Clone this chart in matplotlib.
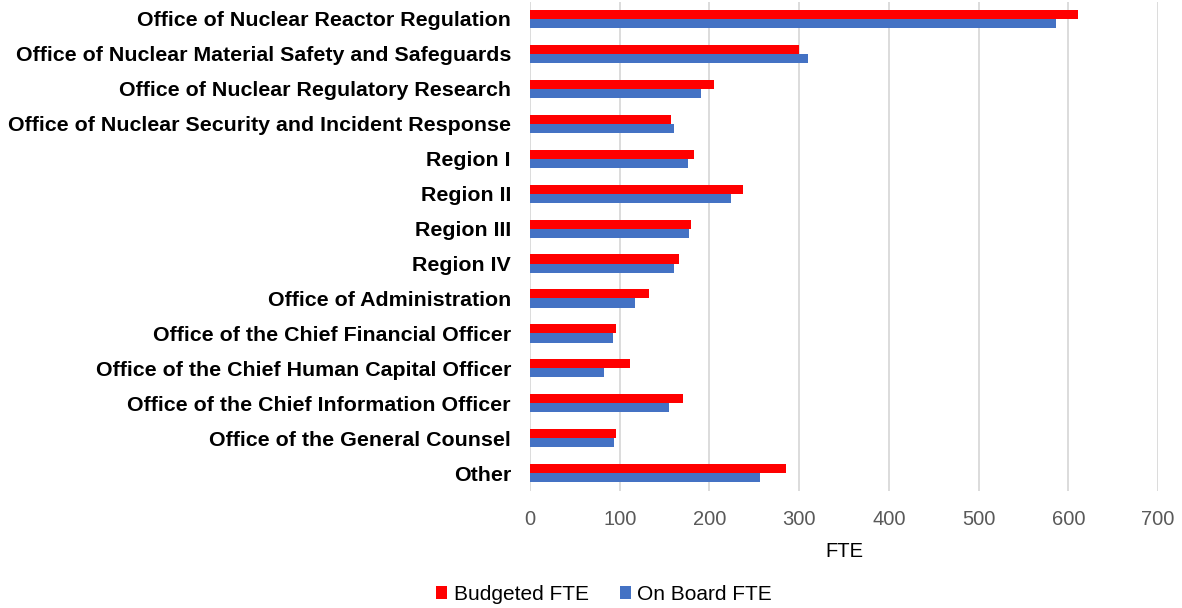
import matplotlib
matplotlib.use("Agg")
import matplotlib.pyplot as plt
import numpy as np

categories = [
    "Office of Nuclear Reactor Regulation",
    "Office of Nuclear Material Safety and Safeguards",
    "Office of Nuclear Regulatory Research",
    "Office of Nuclear Security and Incident Response",
    "Region I",
    "Region II",
    "Region III",
    "Region IV",
    "Office of Administration",
    "Office of the Chief Financial Officer",
    "Office of the Chief Human Capital Officer",
    "Office of the Chief Information Officer",
    "Office of the General Counsel",
    "Other",
]
budgeted = [611, 300, 205, 157, 183, 237, 179, 166, 133, 96, 112, 171, 96, 285]
onboard = [586, 310, 191, 161, 176, 224, 177, 160, 117, 92, 83, 155, 94, 256]
xticks = [0, 100, 200, 300, 400, 500, 600, 700]

plt.rcParams['font.family'] = ['Liberation Sans', 'DejaVu Sans']

fig = plt.figure(figsize=(11.82, 6.08), dpi=100)
ax = fig.add_axes([0.4484, 0.193, 0.5313, 0.8045])

y = np.arange(len(categories))
h = 0.26
ax.barh(y - h/2, budgeted, height=h, color='#ff0000', label='Budgeted FTE', zorder=3)
ax.barh(y + h/2, onboard, height=h, color='#4472c4', label='On Board FTE', zorder=3)

ax.set_ylim(len(categories) - 0.5, -0.5)
ax.set_xlim(0, 700)
ax.set_xticks(xticks)
ax.set_xticklabels([str(t) for t in xticks], color='#595959', fontsize=14.5)
ax.set_yticks(y)
ax.set_yticklabels(categories, fontsize=15.4, fontweight='bold', color='black')
ax.tick_params(axis='both', length=0)
ax.tick_params(axis='x', pad=14)
ax.tick_params(axis='y', pad=13.7)
for s in ax.spines.values():
    s.set_visible(False)
ax.grid(axis='x', color='#d9d9d9', linewidth=1.3, zorder=0)
ax.set_xlabel('FTE', fontsize=14.5, color='black', labelpad=9)

leg = fig.legend(loc='center', bbox_to_anchor=(0.511, 0.022), ncol=2, frameon=False,
                 fontsize=15, handlelength=0.55, handleheight=0.55, handletextpad=0.3,
                 columnspacing=1.5)
for t in leg.get_texts():
    t.set_color('#000000')

fig.savefig('out.png', dpi=100)
